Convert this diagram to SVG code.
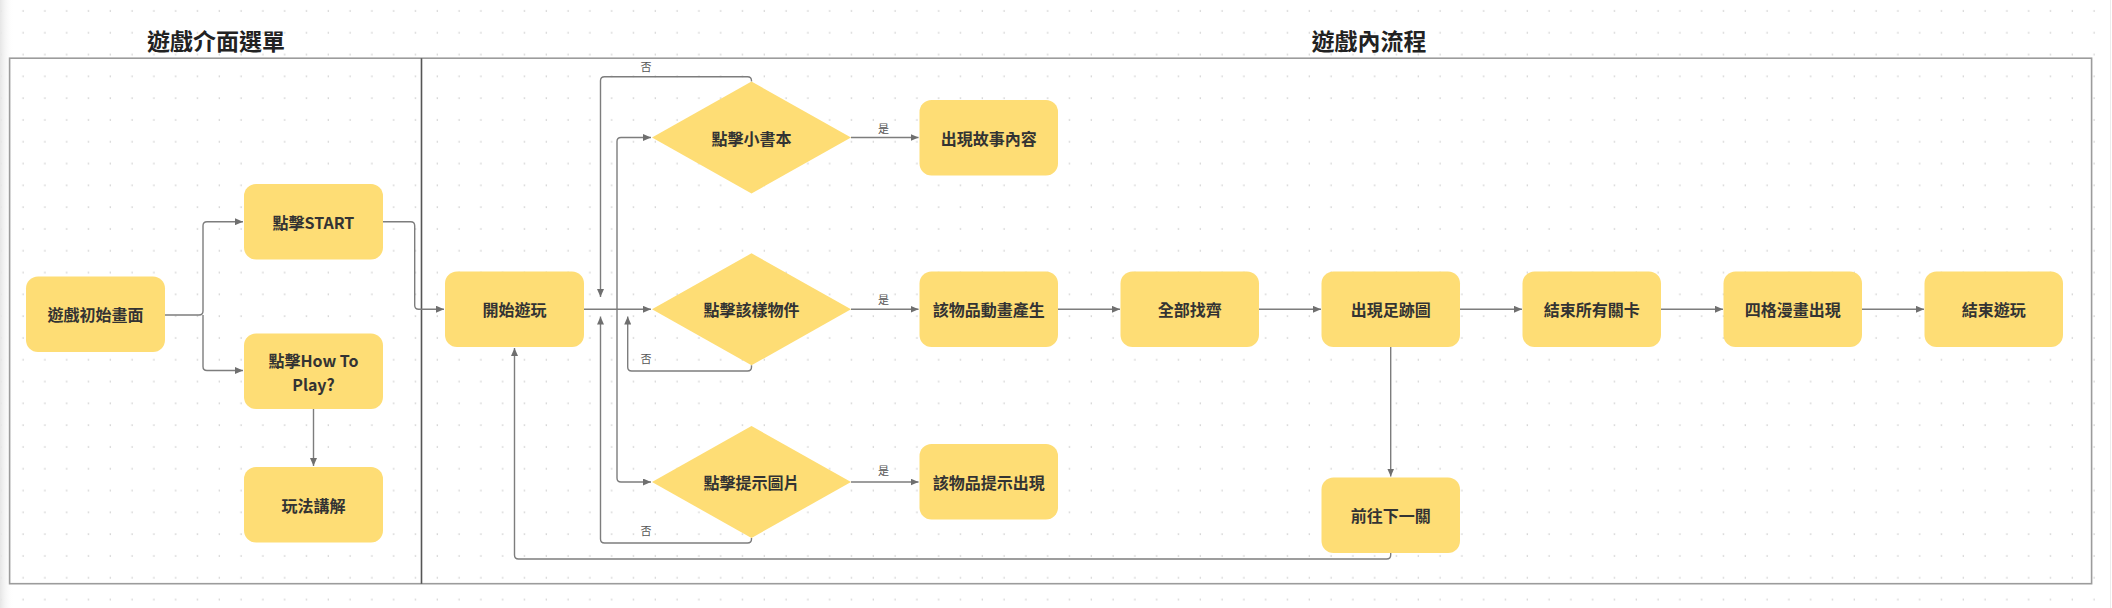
<svg xmlns="http://www.w3.org/2000/svg" width="2112" height="608" viewBox="0 0 2112 608">
<style>
.node rect,.node polygon{fill:#FEDD75;}
.node text{font-family:"Noto Sans CJK TC","Noto Sans CJK SC",sans-serif;font-size:16px;font-weight:700;fill:#333;text-anchor:middle;dominant-baseline:central;}
.title{font-family:"Noto Sans CJK TC","Noto Sans CJK SC",sans-serif;font-size:23px;font-weight:700;fill:#222;text-anchor:middle;dominant-baseline:central;}
.conn path{fill:none;stroke:#7d7d7d;stroke-width:1.4;marker-end:url(#arr);}
.lbl{font-family:"Noto Sans CJK TC","Noto Sans CJK SC",sans-serif;font-size:11px;fill:#555;text-anchor:middle;dominant-baseline:central;}
</style>
<defs>
<pattern id="dots" width="21.8" height="21.8" patternUnits="userSpaceOnUse">
<circle cx="1.3" cy="11" r="0.8" fill="#cacaca"/>
</pattern>
<linearGradient id="edge" x1="0" y1="0" x2="1" y2="0">
<stop offset="0" stop-color="#e6e6e6"/>
<stop offset="1" stop-color="#ffffff" stop-opacity="0"/>
</linearGradient>
<marker id="arr" markerWidth="8" markerHeight="7" refX="8" refY="3.5" orient="auto" markerUnits="userSpaceOnUse">
<path d="M0,0 L8,3.5 L0,7 z" fill="#6f6f6f"/>
</marker>
</defs>
<rect width="2112" height="608" fill="#ffffff"/>
<rect width="2112" height="608" fill="url(#dots)"/>
<rect x="0" y="0" width="14" height="608" fill="url(#edge)"/>
<line x1="2110.5" y1="0" x2="2110.5" y2="608" stroke="#ececec" stroke-width="1"/>

<g id="frames">
<rect x="9.6" y="58.2" width="2082" height="525.5" fill="none" stroke="#9c9c9c" stroke-width="1.6"/>
<line x1="421.5" y1="58.2" x2="421.5" y2="583.7" stroke="#555" stroke-width="1.6"/>
<text class="title" x="216" y="40">遊戲介面選單</text>
<text class="title" x="1369" y="40">遊戲內流程</text>
</g>

<g id="connectors" class="conn">
<path d="M164.5 315 H199 Q203 315 203 311 V225.7 Q203 221.7 207 221.7 H243"/>
<path d="M203 315 V366.5 Q203 370.5 207 370.5 H243"/>
<path d="M383 221.7 H410.7 Q414.7 221.7 414.7 225.7 V305.2 Q414.7 309.2 418.7 309.2 H444"/>
<path d="M313.5 409 V466"/>
<path d="M584 309.3 H651"/>
<path d="M617 309.3 V141.5 Q617 137.5 621 137.5 H651"/>
<path d="M617 309.3 V478 Q617 482 621 482 H651"/>
<path d="M751.5 81.5 V80.8 Q751.5 76.8 747.5 76.8 H604.5 Q600.5 76.8 600.5 80.8 V297"/>
<path d="M751.5 365.3 V367 Q751.5 371 747.5 371 H631.7 Q627.7 371 627.7 367 V316.5"/>
<path d="M751.5 538 V539 Q751.5 543 747.5 543 H604.5 Q600.5 543 600.5 539 V316.5"/>
<path d="M851 137.5 H918.5"/>
<path d="M851 309.3 H918.5"/>
<path d="M851 482 H918.5"/>
<path d="M1058 309.3 H1120"/>
<path d="M1259 309.3 H1321"/>
<path d="M1460 309.3 H1522"/>
<path d="M1661 309.3 H1723"/>
<path d="M1862 309.3 H1924"/>
<path d="M1390.7 347 V476.5"/>
<path d="M1390.7 553 V555 Q1390.7 559 1386.7 559 H518.5 Q514.5 559 514.5 555 V348"/>
<text class="lbl" x="646" y="66">否</text>
<text class="lbl" x="646" y="357.5">否</text>
<text class="lbl" x="646" y="530">否</text>
<text class="lbl" x="883.5" y="128">是</text>
<text class="lbl" x="883.5" y="298.6">是</text>
<text class="lbl" x="883.5" y="470">是</text>
</g>

<g id="n-init" class="node"><rect x="26" y="276.5" width="139" height="75.5" rx="12"/><text x="95.5" y="314.2">遊戲初始畫面</text></g>
<g id="n-start" class="node"><rect x="244" y="184" width="139" height="75.5" rx="12"/><text x="313.5" y="221.7">點擊START</text></g>
<g id="n-howto" class="node"><rect x="244" y="333.5" width="139" height="75.5" rx="12"/><text x="313.5" y="359.5">點擊How To</text><text x="313.5" y="384">Play?</text></g>
<g id="n-rules" class="node"><rect x="244" y="467" width="139" height="75.5" rx="12"/><text x="313.5" y="504.7">玩法講解</text></g>
<g id="n-play" class="node"><rect x="445" y="271.5" width="139" height="75.5" rx="12"/><text x="514.5" y="309.2">開始遊玩</text></g>
<g id="d-book" class="node"><polygon points="652,137.5 751.5,81.5 851,137.5 751.5,193.5"/><text x="751.5" y="137.5">點擊小書本</text></g>
<g id="d-item" class="node"><polygon points="652,309.3 751.5,253.3 851,309.3 751.5,365.3"/><text x="751.5" y="309.3">點擊該樣物件</text></g>
<g id="d-hint" class="node"><polygon points="652,482 751.5,426 851,482 751.5,538"/><text x="751.5" y="482">點擊提示圖片</text></g>
<g id="n-story" class="node"><rect x="919.5" y="100" width="138.5" height="75.5" rx="12"/><text x="988.8" y="137.8">出現故事內容</text></g>
<g id="n-anim" class="node"><rect x="919.5" y="271.5" width="138.5" height="75.5" rx="12"/><text x="988.8" y="309.2">該物品動畫產生</text></g>
<g id="n-hintshow" class="node"><rect x="919.5" y="444" width="138.5" height="75.5" rx="12"/><text x="988.8" y="481.8">該物品提示出現</text></g>
<g id="n-found" class="node"><rect x="1120.5" y="271.5" width="138.5" height="75.5" rx="12"/><text x="1189.8" y="309.2">全部找齊</text></g>
<g id="n-foot" class="node"><rect x="1321.5" y="271.5" width="138.5" height="75.5" rx="12"/><text x="1390.8" y="309.2">出現足跡圖</text></g>
<g id="n-allend" class="node"><rect x="1522.5" y="271.5" width="138.5" height="75.5" rx="12"/><text x="1591.8" y="309.2">結束所有關卡</text></g>
<g id="n-comic" class="node"><rect x="1723.5" y="271.5" width="138.5" height="75.5" rx="12"/><text x="1792.8" y="309.2">四格漫畫出現</text></g>
<g id="n-end" class="node"><rect x="1924.5" y="271.5" width="138.5" height="75.5" rx="12"/><text x="1993.8" y="309.2">結束遊玩</text></g>
<g id="n-next" class="node"><rect x="1321.5" y="477.5" width="138.5" height="75.5" rx="12"/><text x="1390.8" y="515.2">前往下一關</text></g>
</svg>
